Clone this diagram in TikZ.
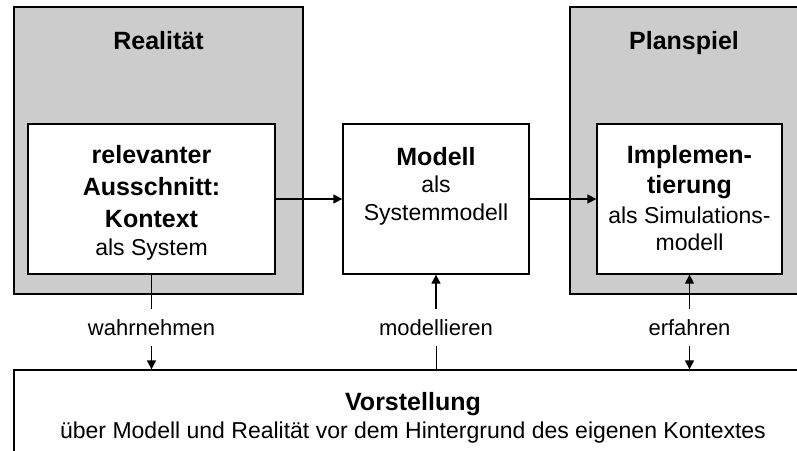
\documentclass[tikz,border=0pt]{standalone}
\usepackage{fontspec}
\setmainfont{Liberation Sans}
\usetikzlibrary{arrows.meta,positioning}
\definecolor{areagrey}{HTML}{CCCCCC}
\newcommand{\hd}[1]{{\fontsize{25}{31}\selectfont\bfseries #1}}

\begin{document}
\begin{tikzpicture}[x=1pt, y=-1pt,
      area/.style={draw, line width=1.3pt, fill=areagrey, inner sep=0pt, minimum height=287pt},
      box/.style={draw, line width=1.3pt, fill=white, inner sep=0pt, minimum height=150pt},
      txt/.style={align=center, anchor=north, inner sep=0pt, font=\fontsize{23}{28}\selectfont},
      lbl/.style={inner sep=0pt, minimum height=37pt, font=\fontsize{22}{26}\selectfont},
      arr/.style={-{Triangle[length=9pt,width=9pt]}, line width=1.3pt}
    ]
      \useasboundingbox (0,0) rectangle (797,450);

      \node[area, minimum width=289pt] (real) at (158.5,150.5) {};
      \node[area, minimum width=232pt] (plan) at (686,150.5) {};
      \node[box, minimum width=247pt] (ctx) at (151.5,199) {};
      \node[box, minimum width=186pt] (mod) at (436,199) {};
      \node[box, minimum width=185pt] (impl) at (689.5,199) {};
      \node[box, minimum width=798pt, minimum height=90pt] (vorst) at (413,415) {};

      \node[txt] (realt) at (real.north |- 0,31) {\hd{Realität}};
      \node[txt] (plant) at (684,31) {\hd{Planspiel}};
      \node[txt] (ctxt) at (ctx.north |- 0,145) {\hd{relevanter}\\[4pt]\hd{Ausschnitt:}\\[4pt]\hd{Kontext}\\als System};
      \node[txt] (modt) at (mod.north |- 0,147) {\hd{Modell}\\[-1pt]als\\Systemmodell};
      \node[txt] (implt) at (impl.north |- 0,145) {\hd{Implemen-}\\[2pt]\hd{tierung}\\[2pt]als Simulations-\\[-1pt]modell};
      \node[txt] (vorstt) at (vorst.north |- 0,392) {\hd{Vorstellung}\\über Modell und Realität vor dem Hintergrund des eigenen Kontextes};

      \draw[arr] (ctx) -- (mod);
      \draw[arr] (mod) -- (impl);

      \node[lbl, below=34pt of ctx] (wahr) {wahrnehmen};
      \node[lbl, below=34pt of mod] (modl) {modellieren};
      \node[lbl, below=34pt of impl] (erf) {erfahren};

      \draw (ctx) -- (wahr);
      \draw[arr] (wahr) -- (wahr |- vorst.north);
      \draw[arr] (modl) -- (mod);
      \draw (modl) -- (modl |- vorst.north);
      \draw[arr] (erf) -- (impl);
      \draw[arr] (erf) -- (erf |- vorst.north);
    \end{tikzpicture}
\end{document}
